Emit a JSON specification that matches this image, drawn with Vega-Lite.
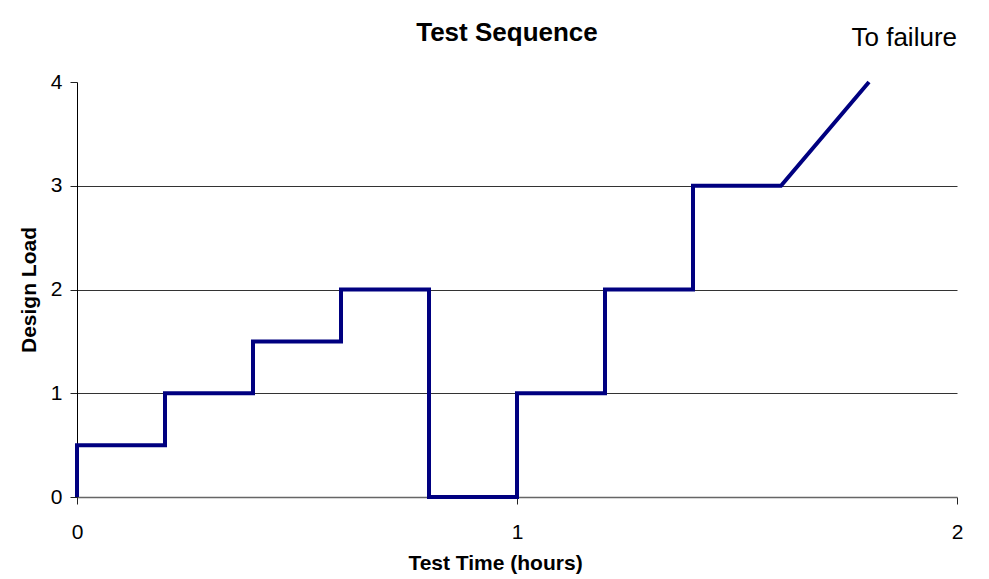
{
  "$schema": "https://vega.github.io/schema/vega-lite/v6.json",
  "width": 880,
  "height": 415,
  "autosize": {"type": "none"},
  "padding": {"left": 77, "top": 82, "right": 32, "bottom": 82},
  "background": "white",
  "config": {
    "font": "Liberation Sans",
    "view": {"stroke": null},
    "axis": {"labelFontSize": 21, "labelFont": "Liberation Sans", "labelColor": "black"}
  },
  "title": {
    "text": "Test Sequence",
    "font": "Liberation Sans",
    "fontSize": 26,
    "fontWeight": "bold",
    "color": "black",
    "anchor": "middle",
    "baseline": "bottom",
    "offset": 25,
    "dy": 72,
    "dx": -10
  },
  "encoding": {
    "x": {
      "field": "time",
      "type": "quantitative",
      "scale": {"domain": [0, 2], "nice": false},
      "axis": {
        "values": [0, 1, 2],
        "labelExpr": "datum.value === 0 ? '0' : datum.value === 1 ? '1' : '2'",
        "grid": false,
        "title": "Test Time (hours)",
        "titleFontSize": 21,
        "titleFontWeight": "bold",
        "titleColor": "black",
        "titlePadding": 10,
        "titleX": 418,
        "labelFontSize": 21,
        "labelColor": "black",
        "labelPadding": 17,
        "labelFlush": false,
        "labelOverlap": false,
        "labelBound": false,
        "tickSize": 7,
        "tickColor": "#222",
        "domainColor": "#666",
        "domainWidth": 1.5
      }
    },
    "y": {
      "field": "load",
      "type": "quantitative",
      "scale": {"domain": [0, 4], "nice": false},
      "axis": {
        "values": [0, 1, 2, 3, 4],
        "labelExpr": "datum.value === 0 ? '0' : datum.value === 1 ? '1' : datum.value === 2 ? '2' : datum.value === 3 ? '3' : '4'",
        "grid": true,
        "gridColor": "#333",
        "gridWidth": 1,
        "gridOpacity": {"condition": {"test": "datum.value === 4 || datum.value === 0", "value": 0}, "value": 1},
        "title": "Design Load",
        "titleFontSize": 21,
        "titleFontWeight": "bold",
        "titleColor": "black",
        "titlePadding": 11,
        "labelFontSize": 21,
        "labelColor": "black",
        "labelPadding": 8,
        "labelFlush": false,
        "labelOverlap": false,
        "labelBound": false,
        "tickSize": 7,
        "tickColor": "#222",
        "domainColor": "black",
        "domainWidth": 1
      }
    }
  },
  "layer": [
    {
      "data": {
        "values": [
          {"i": 1, "time": 0, "load": 0},
          {"i": 2, "time": 0, "load": 0.5},
          {"i": 3, "time": 0.2, "load": 0.5},
          {"i": 4, "time": 0.2, "load": 1},
          {"i": 5, "time": 0.4, "load": 1},
          {"i": 6, "time": 0.4, "load": 1.5},
          {"i": 7, "time": 0.6, "load": 1.5},
          {"i": 8, "time": 0.6, "load": 2},
          {"i": 9, "time": 0.8, "load": 2},
          {"i": 10, "time": 0.8, "load": 0},
          {"i": 11, "time": 1.0, "load": 0},
          {"i": 12, "time": 1.0, "load": 1},
          {"i": 13, "time": 1.2, "load": 1},
          {"i": 14, "time": 1.2, "load": 2},
          {"i": 15, "time": 1.4, "load": 2},
          {"i": 16, "time": 1.4, "load": 3},
          {"i": 17, "time": 1.6, "load": 3},
          {"i": 18, "time": 1.8, "load": 4}
        ]
      },
      "mark": {"type": "line", "color": "#000080", "strokeWidth": 4, "strokeJoin": "miter", "clip": false},
      "encoding": {
        "order": {"field": "i", "type": "quantitative"}
      }
    },
    {
      "data": {"values": [{"time": 2, "load": 4.347, "label": "To failure"}]},
      "mark": {"type": "text", "align": "right", "baseline": "alphabetic", "fontSize": 26, "font": "Liberation Sans", "color": "black", "clip": false},
      "encoding": {
        "text": {"field": "label"}
      }
    }
  ]
}
